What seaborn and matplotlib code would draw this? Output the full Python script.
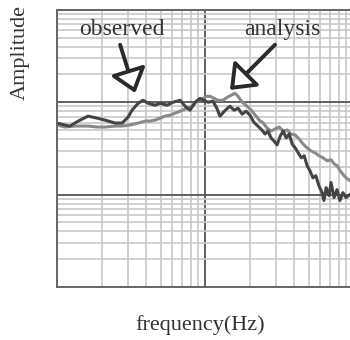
import numpy as np
import matplotlib
matplotlib.use("Agg")
import matplotlib.pyplot as plt
import seaborn as sns

# observed response (dark line)
freq_obs = [1.00, 1.13, 1.22, 1.39, 1.62, 1.86, 2.11, 2.47, 2.75, 3.02, 3.21, 3.53, 3.81, 4.12,
            4.59, 4.97, 5.54, 6.08, 6.78, 7.33, 7.92, 8.56, 9.24, 9.71, 10.5, 11.3, 12.0, 12.6,
            13.7, 14.7, 15.7, 16.7, 17.8, 18.9, 20.1, 21.3, 22.7, 24.2, 25.4, 26.6, 27.9, 29.2,
            30.6, 32.2, 33.7, 35.3, 37.0, 38.7, 40.6, 42.6, 44.6, 46.7, 48.9, 51.1, 53.5, 56.0,
            58.7, 61.6, 63.5, 65.7, 68.8, 70.9, 74.3, 77.8, 81.4, 85.3, 89.4, 95.0, 100]
amp_obs = [0.595, 0.566, 0.552, 0.625, 0.707, 0.673, 0.640, 0.595, 0.595, 0.690, 0.820, 0.975,
           1.05, 0.975, 0.928, 0.975, 0.928, 1.0, 1.05, 0.906, 0.820, 1.0, 1.10, 1.05, 1.0, 1.025,
           0.862, 0.707, 0.820, 0.906, 0.820, 0.862, 0.743, 0.800, 0.725, 0.610, 0.552, 0.500,
           0.453, 0.488, 0.410, 0.381, 0.345, 0.431, 0.488, 0.410, 0.453, 0.354, 0.320, 0.283,
           0.250, 0.263, 0.205, 0.181, 0.152, 0.160, 0.125, 0.105, 0.0863, 0.119, 0.0975, 0.135,
           0.0930, 0.113, 0.0863, 0.105, 0.0930, 0.100, 0.097]

# analysis response (light line)
freq_ana = [1.00, 1.13, 1.32, 1.62, 1.86, 2.11, 2.47, 2.75, 3.11, 3.53, 3.93, 4.25, 4.59, 4.97,
            5.37, 5.81, 6.27, 6.78, 7.55, 8.18, 8.70, 9.24, 9.71, 10.3, 10.8, 11.5, 12.2, 13.2,
            14.1, 15.0, 15.9, 16.7, 17.8, 19.2, 20.5, 21.8, 23.2, 24.7, 26.2, 27.9, 29.7, 31.6,
            33.7, 35.8, 38.1, 40.6, 43.2, 45.9, 48.9, 52.0, 55.4, 58.9, 62.7, 66.7, 71.0, 74.4,
            78.0, 81.7, 86.9, 91.1, 95.5, 100]
amp_ana = [0.566, 0.539, 0.552, 0.552, 0.539, 0.539, 0.552, 0.552, 0.566, 0.595, 0.625, 0.625,
           0.640, 0.673, 0.707, 0.725, 0.762, 0.800, 0.862, 0.906, 1.0, 1.077, 1.10, 1.16, 1.16,
           1.10, 1.05, 1.05, 1.13, 1.19, 1.25, 1.16, 1.0, 0.906, 0.820, 0.725, 0.640, 0.595,
           0.526, 0.488, 0.512, 0.539, 0.488, 0.500, 0.453, 0.442, 0.400, 0.353, 0.320, 0.297,
           0.283, 0.263, 0.250, 0.232, 0.238, 0.215, 0.205, 0.181, 0.160, 0.149, 0.141, 0.135]

sns.set_style("white")
plt.rcParams['font.family'] = ['Liberation Serif', 'DejaVu Serif']

fig = plt.figure(figsize=(3.5, 3.4), dpi=100)
ax = fig.add_axes([0.163, 0.156, 0.846, 0.815])

sns.lineplot(x=freq_ana, y=amp_ana, ax=ax, color='#8a8a8a', lw=2.2, sort=False, estimator=None)
sns.lineplot(x=freq_obs, y=amp_obs, ax=ax, color='#444444', lw=2.2, sort=False, estimator=None)

ax.set_xscale('log')
ax.set_yscale('log')
ax.set_xlim(1, 100)
ax.set_ylim(0.01, 10)

ax.grid(which='minor', color='#c8c8c8', lw=1.2)
ax.grid(which='major', color='#555555', lw=1.3)
ax.set_axisbelow(True)
ax.tick_params(which='both', length=0, labelbottom=False, labelleft=False)
for s in ['left', 'bottom', 'top']:
    ax.spines[s].set_color('#666666')
    ax.spines[s].set_linewidth(1.4)
ax.spines['right'].set_visible(False)
ax.set_xlabel('')
ax.set_ylabel('')

arrow = dict(arrowstyle='-|>,head_length=0.7,head_width=0.55', mutation_scale=20,
             fc='white', ec='#2a2a2a', lw=2.8, shrinkA=0, shrinkB=0)
ax.annotate('', xy=(0.264, 0.700), xytext=(0.213, 0.874), xycoords='axes fraction',
            textcoords='axes fraction', arrowprops=arrow)
ax.annotate('', xy=(0.584, 0.711), xytext=(0.736, 0.874), xycoords='axes fraction',
            textcoords='axes fraction', arrowprops=arrow)
ax.text(0.220, 0.928, 'observed', transform=ax.transAxes, ha='center', va='center',
        fontsize=17, color='#333333')
ax.text(0.760, 0.928, 'analysis', transform=ax.transAxes, ha='center', va='center',
        fontsize=17, color='#333333')

fig.text(0.057, 0.845, 'Amplitude', rotation=90, ha='center', va='center', fontsize=16,
         color='#333333')
fig.text(0.571, 0.044, 'frequency(Hz)', ha='center', va='center', fontsize=16, color='#333333')

fig.savefig('out.png', dpi=100, facecolor='white')
